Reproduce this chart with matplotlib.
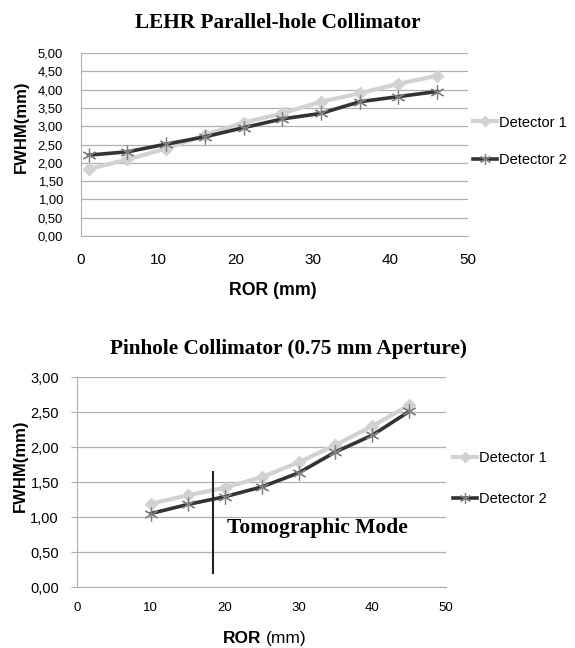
import matplotlib.pyplot as plt
from matplotlib.ticker import FuncFormatter

# LEHR parallel-hole collimator
ror_lehr = [1, 6, 11, 16, 21, 26, 31, 36, 41, 46]
det1_lehr = [1.83, 2.09, 2.39, 2.76, 3.10, 3.35, 3.67, 3.90, 4.16, 4.38]
det2_lehr = [2.21, 2.30, 2.51, 2.71, 2.96, 3.20, 3.35, 3.67, 3.81, 3.95]

# pinhole collimator (0.75 mm aperture)
ror_pin = [10, 15, 20, 25, 30, 35, 40, 45]
det1_pin = [1.19, 1.31, 1.42, 1.57, 1.78, 2.03, 2.30, 2.60]
det2_pin = [1.05, 1.18, 1.29, 1.43, 1.63, 1.93, 2.17, 2.51]

# tomographic mode marker line
tomo_x = 18.4
tomo_y = [0.19, 1.66]

plt.rcParams['font.family'] = 'Liberation Sans'
serif = 'Liberation Serif'
c1 = '#d2d2d2'
c2 = '#333333'
comma = FuncFormatter(lambda v, p: ('%.2f' % v).replace('.', ','))
asterisk = (6, 2, 0)

fig = plt.figure(figsize=(5.75, 6.48), dpi=100)


def draw(ax, x, d1, d2):
    ax.plot(x, d1, color=c1, lw=3, marker='D', ms=6, mfc=c1, mec=c1,
            label='Detector 1', zorder=3)
    ax.plot(x, d2, color=c2, lw=2.6, marker=asterisk, ms=10, mec='#808080',
            mew=0.9, label='Detector 2', zorder=4)
    ax.yaxis.set_major_formatter(comma)
    ax.grid(axis='y', color='#b0b0b0', lw=0.9)
    ax.set_axisbelow(True)
    for s in ['top', 'right']:
        ax.spines[s].set_visible(False)
    ax.spines['left'].set_color('#b0b0b0')
    ax.spines['bottom'].set_color('#b0b0b0')


# top chart
ax1 = fig.add_axes([0.1409, 0.636, 0.673, 0.282])
draw(ax1, ror_lehr, det1_lehr, det2_lehr)
ax1.set_xlim(0, 50)
ax1.set_ylim(0, 5)
ax1.set_yticks([i * 0.5 for i in range(11)])
ax1.set_xticks(range(0, 51, 10))
ax1.tick_params(axis='y', length=0, pad=13, labelsize=9.4)
ax1.tick_params(axis='x', length=0, pad=12, labelsize=11)
fig.text(0.484, 0.965, 'LEHR Parallel-hole Collimator', ha='center',
         va='center', family=serif, weight='bold', fontsize=15.3)
fig.text(0.475, 0.552, 'ROR (mm)', ha='center', va='center',
         weight='bold', fontsize=12.8)
fig.text(0.037, 0.804, 'FWHM(mm)', ha='center', va='center',
         rotation=90, weight='bold', fontsize=12)
ax1.legend(loc='center left', bbox_to_anchor=(0.822, 0.782),
           bbox_transform=fig.transFigure, frameon=False, fontsize=10.5,
           handlelength=1.7, handletextpad=0.1, labelspacing=1.6,
           borderpad=0, borderaxespad=0, markerscale=0.8)

# bottom chart
ax2 = fig.add_axes([0.134, 0.0941, 0.642, 0.324])
draw(ax2, ror_pin, det1_pin, det2_pin)
ax2.set_xlim(0, 50)
ax2.set_ylim(0, 3)
ax2.set_yticks([i * 0.5 for i in range(7)])
ax2.set_xticks(range(0, 51, 10))
ax2.tick_params(axis='y', length=4, color='#b0b0b0', pad=9, labelsize=10.5)
ax2.tick_params(axis='x', length=0, pad=11, labelsize=9.5)
ax2.vlines(tomo_x, tomo_y[0], tomo_y[1], color='#222222', lw=1.5, zorder=5)
ax2.text(20.3, 0.84, 'Tomographic Mode', ha='left', va='center',
         family=serif, weight='bold', fontsize=15.5)
fig.text(0.501, 0.462, 'Pinhole Collimator (0.75 mm Aperture)', ha='center',
         va='center', family=serif, weight='bold', fontsize=15.3)
fig.text(0.455, 0.014, 'ROR', ha='right', va='center', weight='bold',
         fontsize=12.5)
fig.text(0.463, 0.014, '(mm)', ha='left', va='center', fontsize=12.5)
fig.text(0.035, 0.281, 'FWHM(mm)', ha='center', va='center',
         rotation=90, weight='bold', fontsize=12)
ax2.legend(loc='center left', bbox_to_anchor=(0.787, 0.261),
           bbox_transform=fig.transFigure, frameon=False, fontsize=10.5,
           handlelength=1.7, handletextpad=0.1, labelspacing=1.85,
           borderpad=0, borderaxespad=0, markerscale=0.8)

plt.savefig('out.png', dpi=100)
